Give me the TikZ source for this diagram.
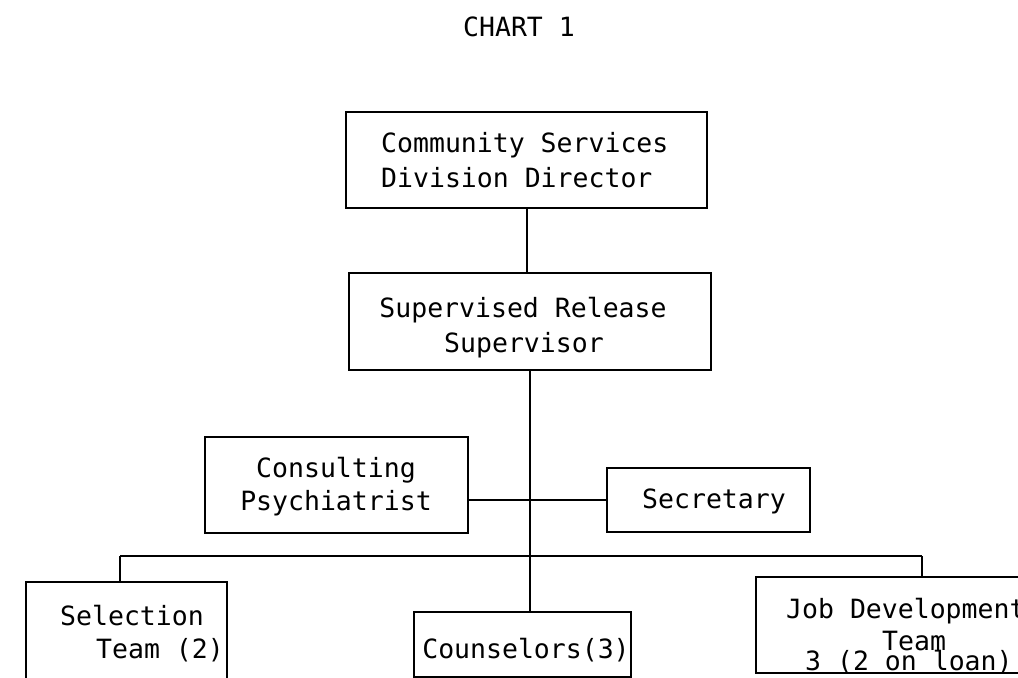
\documentclass[tikz,border=0pt]{standalone}
\usepackage{fontspec}
\newfontfamily\typewriter{DejaVu Sans Mono}
\begin{document}
\begin{tikzpicture}[x=1bp,y=-1bp,
  every node/.style={font=\typewriter\fontsize{26.6}{35}\selectfont},
  box/.style={draw, line width=2bp, rectangle, inner sep=0pt},
  txt/.style={inner sep=0pt, anchor=base},
  txtl/.style={inner sep=0pt, anchor=base west},
  wire/.style={line width=2bp}]
\useasboundingbox (0,0) rectangle (1018,678);
\clip (0,0) rectangle (1018,678);
\fill[white] (0,0) rectangle (1018,678);

% title
\node[txt] (title) at (519,37) {CHART 1};

% boxes
\node[box, minimum width=363, minimum height=96] (dir)    at (526.5,160) {};
\node[box, minimum width=364, minimum height=97] (sup)    at (530,321.5) {};
\node[box, minimum width=263, minimum height=96] (cons)   at (336.5,485) {};
\node[box, minimum width=203, minimum height=64] (sec)    at (708.5,500) {};
\node[box, minimum width=201, minimum height=140] (sel)   at (126.5,652) {};
\node[box, minimum width=217, minimum height=65] (couns)  at (522.5,644.5) {};
\node[box, minimum width=285, minimum height=96] (job)    at (897.5,625) {};

% box texts
\node[txtl] (dir1) at (381,153) {Community Services};
\node[txtl] (dir2) at (381,188) {Division Director};
\node[txt] (sup1) at (523,317) {Supervised Release};
\node[txt] (sup2) at (524,352) {Supervisor};
\node[txt] (cons1) at (336,477) {Consulting};
\node[txt] (cons2) at (336,510) {Psychiatrist};
\node[txt] (sec1) at (714,508) {Secretary};
\node[txtl] (sel1) at (60,625) {Selection};
\node[txtl] (sel2) at (96,658) {Team (2)};
\node[txt] (couns1) at (526,658) {Counselors(3)};
\node[txtl] (job1) at (786,618) {Job Development};
\node[txtl] (job2) at (882,650) {Team};
\node[txtl] (job3) at (805,670) {3 (2 on loan)};

% connectors
\coordinate (busL) at (120,556);
\coordinate (busR) at (922,556);
\draw[wire] (dir.south) -- (dir.south |- sup.north);
\draw[wire] (sup.south) -- (sup.south |- couns.north);
\draw[wire] (cons.east |- sec.west) -- (sec.west);
\draw[wire] (busL) -- (busR);
\draw[wire] (busL) -- (busL |- sel.north);
\draw[wire] (busR) -- (busR |- job.north);
\end{tikzpicture}
\end{document}
